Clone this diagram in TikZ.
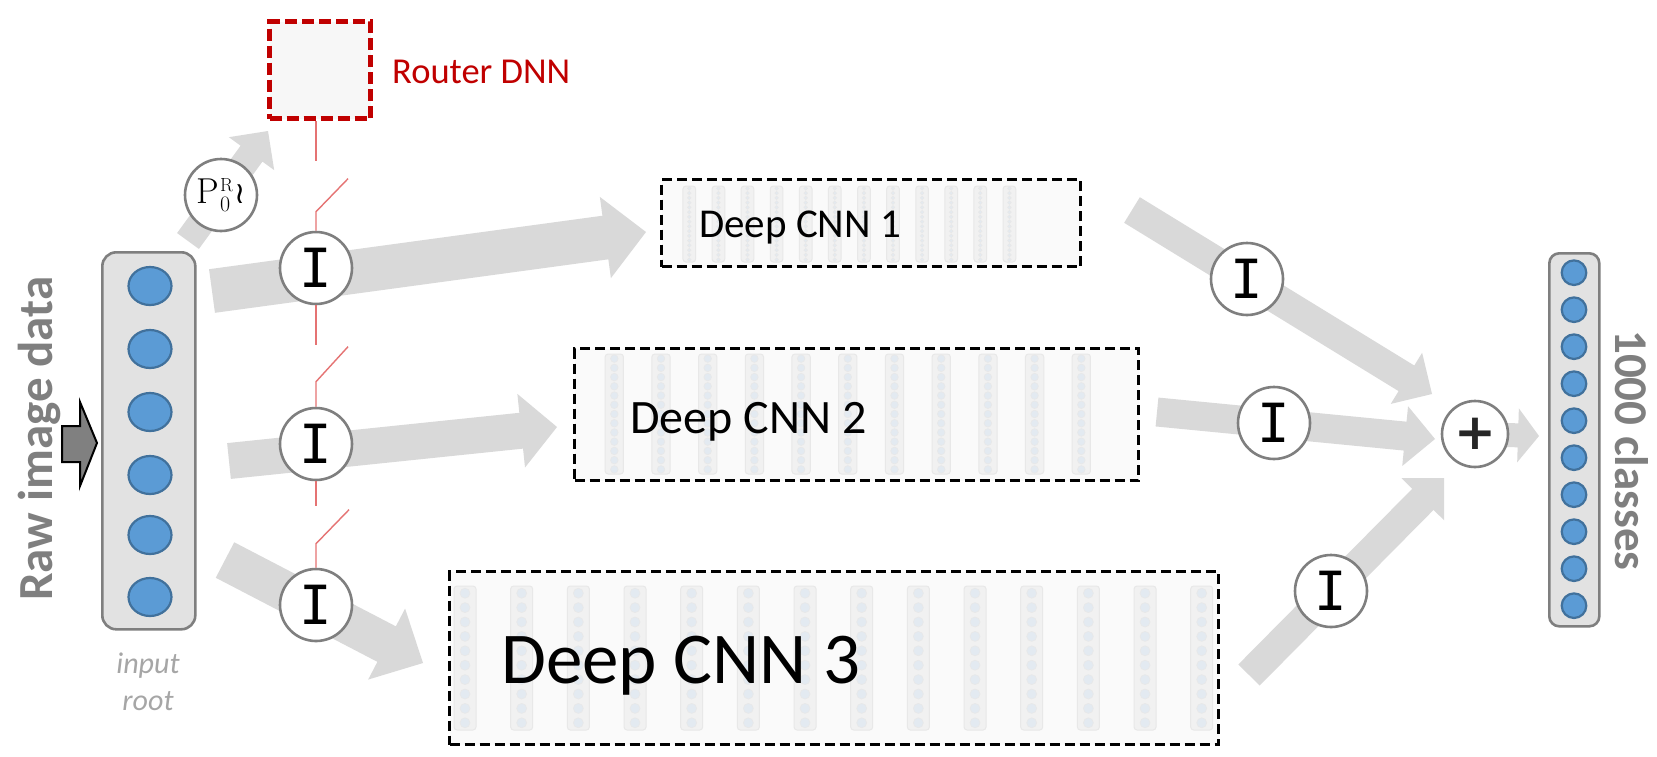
\documentclass[tikz,border=0pt]{standalone}
\usepackage{fontspec}
\setmainfont{Carlito}
\newfontfamily\monof{DejaVu Sans Mono}
\newfontfamily\djv{DejaVu Sans}
\newfontfamily\lmr{Latin Modern Roman}
\usetikzlibrary{calc}
\definecolor{arrowgray}{HTML}{D9D9D9}
\definecolor{ringgray}{HTML}{7F7F7F}
\definecolor{boxgray}{HTML}{E2E2E2}
\definecolor{nodeblue}{HTML}{5B9BD5}
\definecolor{nodeblueline}{HTML}{41719C}
\definecolor{routerred}{HTML}{C00000}
\definecolor{switchred}{HTML}{E57373}
\definecolor{textgray}{HTML}{7F7F7F}
\definecolor{lightgray2}{HTML}{A6A6A6}
\definecolor{cnnfill}{HTML}{FAFAFA}
\definecolor{routerfill}{HTML}{F7F7F7}
\definecolor{colfill}{HTML}{F1F1F1}
\definecolor{colline}{HTML}{E8E8E8}
\definecolor{dotfill}{HTML}{E3EAF1}
\definecolor{darkarrow}{HTML}{808080}
\definecolor{plusdark}{HTML}{262626}

% block arrow: #1 start, #2 tip, #3 half shaft, #4 half head, #5 head length
\newcommand\blockarrow[5]{%
  \coordinate (bah) at ($(#2)!#5!(#1)$);
  \fill[arrowgray] ($(#1)!#3!90:(#2)$) -- ($(bah)!#3!-90:(#1)$) -- ($(bah)!#4!-90:(#1)$)
    -- (#2) -- ($(bah)!#4!90:(#1)$) -- ($(bah)!#3!90:(#1)$) -- ($(#1)!#3!-90:(#2)$) -- cycle;
}
% columns: #1 first x, #2 spacing, #3 count, #4 width, #5 ytop, #6 ybot, #7 ndots, #8 dot radius
\newcommand\cnncolumns[8]{%
  \foreach \k in {1,...,#3}{%
    \pgfmathsetmacro\cx{#1+(\k-1)*#2}
    \draw[colstyle] (\cx-#4/2,#5) rectangle (\cx+#4/2,#6);
    \foreach \j in {1,...,#7}{%
      \pgfmathsetmacro\cy{#5+(#6-#5)*(\j-0.5)/#7}
      \filldraw[fill=dotfill, draw=colline, line width=0.6pt] (\cx,\cy) circle[radius=#8];
    }
  }%
}

\begin{document}
\begin{tikzpicture}[x=1pt,y=-1pt,
  iring/.style={circle, draw=ringgray, line width=2.6pt, fill=white, minimum size=72pt, inner sep=0pt, font=\monof\fontsize{54}{54}\selectfont},
  cnnbox/.style={draw=black, line width=3pt, dash pattern=on 10pt off 5pt, fill=cnnfill, anchor=north west, inner sep=0pt},
  iobox/.style={draw=ringgray, line width=2.6pt, fill=boxgray, anchor=north west, inner sep=0pt},
  switch/.style={draw=switchred, line width=1.4pt},
  colstyle/.style={fill=colfill, draw=colline, line width=1pt, rounded corners=3pt},
  cnntext/.style={anchor=base west, inner sep=0pt, text=black},
  bluedot/.style={fill=nodeblue, draw=nodeblueline, line width=2.2pt},
]
\useasboundingbox (0,0) rectangle (1657,756);
\fill[white] (0,0) rectangle (1657,756);

% ---- coordinates of arrow ends
\coordinate (ra) at (188,241);  \coordinate (rb) at (268,131);
\coordinate (a1s) at (212,291); \coordinate (a1t) at (646,232);
\coordinate (a2s) at (229,461); \coordinate (a2t) at (557,427);
\coordinate (a3s) at (225,560); \coordinate (a3t) at (423,663);
\coordinate (b1s) at (1132,210); \coordinate (b1t) at (1432,394);
\coordinate (b2s) at (1157,412); \coordinate (b2t) at (1435,439);
\coordinate (b3s) at (1249,675); \coordinate (b3t) at (1444,478);
\coordinate (pc) at (1475,434);  \coordinate (ot) at (1539,436);

% ---- light gray block arrows
\blockarrow{ra}{rb}{13.5pt}{28pt}{28pt}
\blockarrow{a1s}{a1t}{22pt}{41pt}{41pt}
\blockarrow{a2s}{a2t}{18pt}{37pt}{36pt}
\blockarrow{a3s}{a3t}{20pt}{40pt}{41pt}
\blockarrow{b1s}{b1t}{15pt}{30pt}{30pt}
\blockarrow{b2s}{b2t}{14.5pt}{30pt}{30pt}
\blockarrow{b3s}{b3t}{15pt}{30pt}{30pt}
\blockarrow{pc}{ot}{12pt}{27pt}{21pt}

% ---- router
\node[draw=routerred, line width=5pt, dash pattern=on 12pt off 5pt, fill=routerfill,
      anchor=north west, inner sep=0pt, minimum width=101pt, minimum height=97pt] (router) at (267,19) {};
\node[font=\fontsize{36.5}{36.5}\selectfont, text=routerred, anchor=base west, inner sep=0pt] (rlabel) at (392,83) {Router DNN};

% ---- input column
\node[iobox, rounded corners=14pt, minimum width=93pt, minimum height=377pt] (in) at (101,251) {};
\foreach \yy in {286,349,412,475,535,597}{
  \filldraw[bluedot] (150,\yy) ellipse[x radius=21.5pt, y radius=19pt];
}
\filldraw[fill=darkarrow, draw=black, line width=2pt] (62,426) -- (80,426) -- (80,402) -- (97,443)
  -- (80,486) -- (80,462) -- (62,462) -- cycle;
\node[font=\bfseries\fontsize{49}{49}\selectfont, text=textgray, rotate=90, anchor=base west, inner sep=0pt] (raw) at (52,601) {Raw image data};
\node[font=\itshape\fontsize{30}{30}\selectfont, text=lightgray2, anchor=base, inner sep=0pt] (inl1) at (148,673) {input};
\node[font=\itshape\fontsize{30}{30}\selectfont, text=lightgray2, anchor=base, inner sep=0pt] (inl2) at (148,710) {root};

% ---- output column
\node[iobox, rounded corners=10pt, minimum width=50pt, minimum height=373pt] (out) at (1548,252) {};
\foreach \k in {0,...,9}{
  \filldraw[bluedot] (1574,272.7+37*\k) circle[radius=12.3pt];
}
\node[font=\bfseries\fontsize{47}{47}\selectfont, text=textgray, rotate=-90, anchor=base west, inner sep=0pt] (cls) at (1615,330) {1000 classes};

% ---- CNN boxes
\node[cnnbox, minimum width=419pt, minimum height=87pt] (cnn1) at (660,178) {};
\cnncolumns{689.3}{29.1}{12}{12.7}{186}{262}{16}{1.8pt}
\node[cnntext, font=\fontsize{41}{41}\selectfont] (t1) at (699,237) {Deep CNN 1};

\node[cnnbox, minimum width=564pt, minimum height=132pt] (cnn2) at (573,347) {};
\cnncolumns{614.3}{46.7}{11}{18.3}{354}{474}{13}{3.8pt}
\node[cnntext, font=\fontsize{48}{48}\selectfont] (t2) at (630,433) {Deep CNN 2};

\node[cnnbox, minimum width=769pt, minimum height=173pt] (cnn3) at (448,570) {};
\cnncolumns{465}{56.67}{14}{22}{586}{730}{10}{5pt}
\node[cnntext, font=\fontsize{73}{73}\selectfont] (t3) at (501,683) {Deep CNN 3};

% ---- gate circles
\node[iring, font=\lmr\fontsize{36}{36}\selectfont] (p0) at (221,195)
  {P\kern1pt\makebox[14pt][l]{\raisebox{12pt}{\fontsize{19}{19}\selectfont R}}\kern-14pt\makebox[14pt][l]{\raisebox{-8pt}{\fontsize{22}{22}\selectfont 0}}{\djv\fontsize{30}{30}\selectfont ≀}};
\node[iring] (i1) at (316,268) {I};
\node[iring] (i2) at (316,444) {I};
\node[iring] (i3) at (316,605) {I};
\node[iring] (o1) at (1247,279) {I};
\node[iring] (o2) at (1274,423) {I};
\node[iring] (o3) at (1331,591) {I};
\node[circle, draw=ringgray, line width=2.6pt, fill=white, minimum size=66pt, inner sep=0pt,
      font=\djv\bfseries\fontsize{50}{50}\selectfont, text=plusdark] (plus) at (pc) {+};

% ---- router switches
\draw[switch] (router.south -| i1) -- ++(0,40);
\draw[switch] (i1.north) -- ++(0,-19) -- ++(32,-33);
\draw[switch] (i1.south) -- ++(0,40);
\draw[switch] (i2.north) -- ++(0,-25) -- ++(32,-35);
\draw[switch] (i2.south) -- ++(0,25);
\draw[switch] (i3.north) -- ++(0,-24) -- ++(33,-34);
\end{tikzpicture}
\end{document}
